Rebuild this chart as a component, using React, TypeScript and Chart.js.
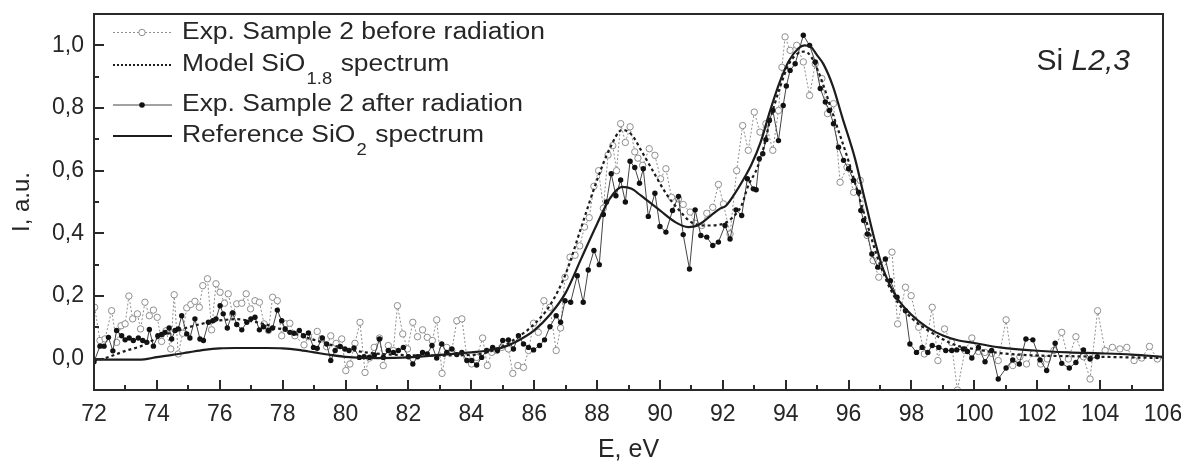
import React, { useEffect, useRef } from 'react';
import { Chart, registerables } from 'chart.js';

Chart.register(...registerables);

const FONT = '"Liberation Sans", Arial, Helvetica, sans-serif';

// Axis ticks
const xMajorTicks = [72, 74, 76, 78, 80, 82, 84, 86, 88, 90, 92, 94, 96, 98, 100, 102, 104, 106];
const xMinorTicks = [73, 75, 77, 79, 81, 83, 85, 87, 89, 91, 93, 95, 97, 99, 101, 103, 105];
const yMajorTicks = [0, 0.2, 0.4, 0.6, 0.8, 1.0];
const yMinorTicks = [0.1, 0.3, 0.5, 0.7, 0.9];

// Exp. Sample 2 before radiation (open circles)
const beforeE = [72.02, 72.19, 72.35, 72.56, 72.72, 72.86, 72.99, 73.11, 73.23, 73.38, 73.48, 73.62, 73.76, 73.89, 74.01, 74.15, 74.29, 74.44, 74.55, 74.68, 74.82, 74.95, 75.08, 75.21, 75.35, 75.46, 75.61, 75.74, 75.88, 76.01, 76.15, 76.27, 76.41, 76.54, 76.7, 76.84, 76.98, 77.12, 77.26, 77.41, 77.55, 77.68, 77.83, 77.97, 78.1, 78.23, 78.39, 78.68, 78.82, 79.1, 79.24, 79.4, 79.53, 79.7, 79.88, 80.01, 80.14, 80.3, 80.46, 80.62, 80.76, 80.91, 81.08, 81.2, 81.36, 81.52, 81.65, 81.82, 81.97, 82.14, 82.29, 82.45, 82.6, 82.76, 82.9, 83.07, 83.22, 83.38, 83.54, 83.7, 83.86, 84.01, 84.17, 84.36, 84.51, 84.65, 84.81, 84.97, 85.18, 85.32, 85.48, 85.66, 85.82, 85.98, 86.13, 86.31, 86.5, 86.7, 86.84, 86.98, 87.14, 87.3, 87.45, 87.6, 87.75, 87.9, 88.05, 88.2, 88.35, 88.5, 88.62, 88.75, 88.9, 89.05, 89.2, 89.3, 89.45, 89.66, 89.84, 90.02, 90.19, 90.37, 90.59, 90.74, 90.96, 91.12, 91.33, 91.49, 91.68, 91.86, 92.02, 92.23, 92.44, 92.63, 92.81, 93.0, 93.18, 93.37, 93.59, 93.77, 93.88, 93.98, 94.14, 94.35, 94.56, 94.76, 94.94, 95.15, 95.33, 95.52, 95.73, 95.95, 96.16, 96.37, 96.59, 96.78, 96.96, 97.38, 97.56, 97.81, 97.99, 98.23, 98.41, 98.66, 98.84, 99.05, 99.27, 99.46, 99.7, 99.92, 100.13, 100.34, 100.55, 100.76, 101.01, 101.22, 101.45, 101.66, 101.88, 102.11, 102.32, 102.53, 102.78, 102.99, 103.23, 103.47, 103.68, 103.92, 104.16, 104.39, 104.63, 104.85, 105.08, 105.32, 105.57, 105.82];
const beforeI = [0.164, 0.058, 0.063, 0.153, 0.052, 0.105, 0.111, 0.2, 0.127, 0.143, 0.095, 0.18, 0.137, 0.155, 0.132, 0.055, 0.089, 0.031, 0.204, 0.015, 0.081, 0.162, 0.173, 0.183, 0.164, 0.233, 0.255, 0.092, 0.239, 0.212, 0.177, 0.207, 0.143, 0.175, 0.177, 0.207, 0.159, 0.185, 0.18, 0.111, 0.09, 0.196, 0.185, 0.073, 0.111, 0.113, 0.073, 0.044, 0.07, 0.087, 0.063, 0.038, 0.073, 0.049, 0.063, -0.038, -0.017, 0.049, 0.116, -0.044, 0.002, 0.036, 0.066, -0.022, 0.042, 0.026, 0.169, 0.079, 0.031, 0.116, 0.07, 0.092, 0.068, 0.058, 0.124, -0.047, 0.036, 0.026, 0.121, 0.127, 0.004, -0.017, 0.004, 0.066, -0.022, 0.02, 0.026, 0.036, 0.031, -0.047, -0.022, -0.028, 0.026, 0.113, 0.084, 0.185, 0.164, 0.026, 0.098, 0.26, 0.324, 0.33, 0.36, 0.42, 0.45, 0.55, 0.6, 0.48, 0.65, 0.68, 0.6, 0.75, 0.69, 0.74, 0.66, 0.64, 0.617, 0.67, 0.649, 0.574, 0.606, 0.515, 0.51, 0.492, 0.468, 0.432, 0.425, 0.464, 0.483, 0.556, 0.494, 0.398, 0.6, 0.744, 0.665, 0.787, 0.723, 0.75, 0.665, 0.792, 0.93, 1.027, 0.984, 1.0, 0.947, 0.84, 0.941, 0.894, 0.782, 0.814, 0.563, 0.611, 0.531, 0.569, 0.393, 0.313, 0.26, 0.34, 0.111, 0.228, 0.201, 0.1, 0.015, 0.164, -0.006, 0.095, 0.052, -0.1, 0.026, 0.066, 0.023, 0.02, 0.017, -0.006, 0.124, -0.022, 0.006, -0.017, 0.017, -0.017, -0.001, 0.026, 0.084, -0.001, 0.07, 0.006, -0.065, 0.153, 0.026, 0.036, 0.031, 0.036, -0.006, 0.002, 0.039, -0.001];

// Exp. Sample 2 after radiation (filled circles)
const afterE = [72.0, 72.19, 72.32, 72.46, 72.6, 72.72, 72.88, 72.99, 73.12, 73.25, 73.41, 73.55, 73.68, 73.76, 73.89, 74.03, 74.15, 74.26, 74.39, 74.47, 74.58, 74.68, 74.79, 74.95, 75.05, 75.21, 75.37, 75.48, 75.64, 75.78, 75.88, 76.01, 76.11, 76.24, 76.41, 76.54, 76.7, 76.86, 76.99, 77.12, 77.26, 77.39, 77.55, 77.68, 77.83, 77.97, 78.08, 78.23, 78.36, 78.53, 78.66, 78.82, 78.98, 79.1, 79.26, 79.4, 79.53, 79.67, 79.83, 79.98, 80.11, 80.27, 80.44, 80.59, 80.76, 80.92, 81.08, 81.2, 81.36, 81.52, 81.68, 81.84, 82.0, 82.14, 82.29, 82.45, 82.6, 82.75, 82.9, 83.06, 83.22, 83.38, 83.54, 83.7, 83.86, 84.01, 84.17, 84.33, 84.49, 84.68, 84.83, 85.0, 85.18, 85.34, 85.5, 85.66, 85.82, 85.98, 86.17, 86.33, 86.5, 86.7, 86.84, 86.98, 87.16, 87.37, 87.56, 87.72, 87.9, 88.07, 88.2, 88.3, 88.45, 88.6, 88.75, 88.9, 89.05, 89.2, 89.35, 89.47, 89.63, 89.84, 90.0, 90.19, 90.4, 90.59, 90.74, 90.94, 91.12, 91.3, 91.49, 91.68, 91.86, 92.07, 92.23, 92.42, 92.6, 92.78, 92.97, 93.06, 93.16, 93.27, 93.37, 93.48, 93.59, 93.77, 93.92, 94.02, 94.14, 94.3, 94.56, 94.76, 94.94, 95.1, 95.26, 95.39, 95.52, 95.68, 95.84, 96.0, 96.16, 96.32, 96.39, 96.48, 96.6, 96.74, 96.93, 97.17, 97.33, 97.54, 97.81, 97.95, 98.16, 98.34, 98.52, 98.66, 98.87, 99.09, 99.28, 99.44, 99.65, 99.78, 99.92, 100.13, 100.34, 100.55, 100.76, 101.01, 101.22, 101.43, 101.64, 101.86, 102.09, 102.3, 102.57, 102.78, 103.02, 103.23, 103.47, 103.68, 103.91];
const afterI = [-0.01, 0.04, 0.04, 0.068, 0.025, 0.09, 0.073, 0.06, 0.066, 0.058, 0.066, 0.058, 0.052, 0.093, 0.04, 0.073, 0.077, 0.084, 0.098, 0.063, 0.09, 0.095, 0.137, 0.079, 0.066, 0.127, 0.063, 0.058, 0.116, 0.121, 0.127, 0.169, 0.143, 0.098, 0.146, 0.109, 0.092, 0.116, 0.127, 0.132, 0.092, 0.102, 0.09, 0.098, 0.155, 0.121, 0.095, 0.084, 0.081, 0.09, 0.073, 0.082, 0.036, 0.033, 0.066, 0.047, -0.006, 0.026, 0.039, 0.031, 0.026, 0.034, 0.004, 0.006, 0.004, 0.012, 0.063, 0.004, 0.026, 0.02, 0.026, 0.036, 0.006, -0.017, 0.006, 0.02, 0.015, 0.042, 0.002, 0.047, 0.02, 0.031, 0.013, 0.02, -0.006, -0.006, -0.02, 0.004, 0.026, 0.036, 0.026, 0.058, 0.06, 0.031, 0.073, 0.047, 0.036, 0.028, 0.042, 0.06, 0.102, 0.137, 0.116, 0.185, 0.18, 0.265, 0.18, 0.283, 0.345, 0.3, 0.46, 0.5, 0.59, 0.52, 0.57, 0.5, 0.63, 0.61, 0.56, 0.606, 0.454, 0.528, 0.422, 0.404, 0.473, 0.518, 0.396, 0.286, 0.475, 0.393, 0.388, 0.361, 0.372, 0.425, 0.382, 0.475, 0.457, 0.574, 0.542, 0.539, 0.638, 0.654, 0.699, 0.76, 0.792, 0.696, 0.808, 0.87, 0.92, 0.941, 1.032, 1.0, 0.947, 0.862, 0.819, 0.792, 0.75, 0.675, 0.633, 0.606, 0.569, 0.531, 0.473, 0.441, 0.398, 0.334, 0.292, 0.318, 0.249, 0.196, 0.153, 0.047, 0.02, 0.036, 0.02, 0.042, 0.036, 0.026, 0.026, 0.028, 0.031, 0.023, 0.002, 0.036, -0.01, 0.026, -0.065, -0.03, -0.004, -0.017, 0.063, 0.06, -0.004, -0.038, 0.049, -0.015, -0.03, -0.012, 0.028, -0.001, 0.006];

// Model SiO1.8 spectrum (dotted)
const modelE = [72.0, 72.3, 72.6, 73.0, 73.5, 74.0, 74.5, 75.0, 75.5, 76.0, 76.5, 77.0, 77.5, 78.0, 78.5, 79.0, 79.5, 80.0, 80.5, 81.0, 82.0, 83.0, 84.0, 84.5, 85.0, 85.5, 86.0, 86.5, 87.0, 87.5, 88.0, 88.4, 88.8, 89.1, 89.4, 89.8, 90.2, 90.6, 91.0, 91.5, 92.0, 92.3, 92.6, 92.8, 93.1, 93.3, 93.5, 93.8, 94.1, 94.4, 94.6, 94.8, 95.1, 95.5, 96.0, 96.5, 97.0, 97.5, 98.0, 98.5, 99.0, 99.5, 100.0, 100.8, 102.0, 103.0, 104.0, 105.0, 106.0];
const modelI = [-0.005, 0.0, 0.01, 0.025, 0.04, 0.065, 0.085, 0.1, 0.113, 0.122, 0.126, 0.12, 0.108, 0.092, 0.076, 0.06, 0.045, 0.032, 0.022, 0.016, 0.011, 0.01, 0.012, 0.02, 0.04, 0.07, 0.11, 0.17, 0.27, 0.42, 0.57, 0.67, 0.73, 0.715, 0.665, 0.595, 0.526, 0.475, 0.435, 0.425, 0.43, 0.45, 0.49, 0.55, 0.61, 0.675, 0.76, 0.86, 0.94, 0.975, 0.98, 0.965, 0.9, 0.78, 0.63, 0.46, 0.3, 0.19, 0.13, 0.092, 0.062, 0.04, 0.031, 0.018, 0.01, 0.008, 0.006, 0.004, 0.002];

// Reference SiO2 spectrum (solid)
const refE = [72.0, 73.0, 73.6, 74.0, 74.5, 75.0, 75.5, 76.0, 76.5, 77.0, 77.5, 78.0, 78.5, 79.0, 79.5, 80.0, 80.5, 81.0, 82.0, 83.0, 84.0, 84.5, 85.0, 85.5, 86.0, 86.5, 87.0, 87.5, 88.0, 88.4, 88.8, 89.1, 89.4, 90.0, 90.5, 90.9, 91.2, 91.6, 91.9, 92.1, 92.4, 92.7, 92.9, 93.2, 93.5, 93.8, 94.1, 94.4, 94.6, 94.8, 95.0, 95.2, 95.5, 95.8, 96.2, 96.5, 96.8, 97.1, 97.5, 98.0, 98.5, 99.0, 99.5, 100.0, 100.8, 101.9, 103.0, 104.0, 105.0, 106.0];
const refI = [-0.003, -0.003, -0.002, 0.005, 0.012, 0.02, 0.028, 0.033, 0.034, 0.034, 0.034, 0.033, 0.028, 0.02, 0.012, 0.006, 0.003, 0.002, 0.004, 0.012, 0.02, 0.026, 0.036, 0.058, 0.09, 0.14, 0.21, 0.32, 0.43, 0.51, 0.548, 0.542, 0.52, 0.473, 0.435, 0.42, 0.425, 0.455, 0.478, 0.488, 0.53, 0.58, 0.617, 0.69, 0.79, 0.88, 0.95, 0.99, 1.0, 0.995, 0.968, 0.94, 0.87, 0.77, 0.64, 0.515, 0.39, 0.285, 0.2, 0.14, 0.1, 0.074, 0.058, 0.05, 0.036, 0.026, 0.02, 0.017, 0.013, 0.006];

const xTitle = 'E, eV';
const yTitle = 'I, a.u.';

type Seg = { t: string; sub?: boolean; italic?: boolean };
const legendRows: Seg[][] = [
  [{ t: 'Exp. Sample 2 before radiation' }],
  [{ t: 'Model SiO' }, { t: '1.8', sub: true }, { t: ' spectrum' }],
  [{ t: 'Exp. Sample 2 after radiation' }],
  [{ t: 'Reference SiO' }, { t: '2', sub: true }, { t: ' spectrum' }],
];
const annotation: Seg[] = [{ t: 'Si ' }, { t: 'L2,3', italic: true }];

const pts = (xs: number[], ys: number[]) => xs.map((x, i) => ({ x, y: ys[i] }));

const GRAY = '#8e8e8e';
const INK = '#1c1c1c';
const TEXT = '#262626';

const decorPlugin = {
  id: 'decor',
  afterDraw(chart: any) {
    const { ctx, chartArea: a, scales } = chart;
    const xs = scales.x;
    const ys = scales.y;
    ctx.save();
    // frame
    ctx.strokeStyle = '#2a2a2a';
    ctx.lineWidth = 2;
    ctx.strokeRect(a.left, a.top, a.right - a.left, a.bottom - a.top);
    // inward ticks
    ctx.beginPath();
    for (const v of xMajorTicks) {
      const p = Math.round(xs.getPixelForValue(v));
      ctx.moveTo(p, a.bottom);
      ctx.lineTo(p, a.bottom - 10);
    }
    for (const v of xMinorTicks) {
      const p = Math.round(xs.getPixelForValue(v));
      ctx.moveTo(p, a.bottom);
      ctx.lineTo(p, a.bottom - 5);
    }
    for (const v of yMajorTicks) {
      const p = Math.round(ys.getPixelForValue(v));
      ctx.moveTo(a.left, p);
      ctx.lineTo(a.left + 10, p);
    }
    for (const v of yMinorTicks) {
      const p = Math.round(ys.getPixelForValue(v));
      ctx.moveTo(a.left, p);
      ctx.lineTo(a.left + 5, p);
    }
    ctx.stroke();

    // legend
    const rowsY = [32.5, 65, 105, 136];
    const x0 = 113;
    const x1 = 172;
    const xm = 142;
    const tx = 182;
    const mainFont = `23px ${FONT}`;
    const subFont = `16px ${FONT}`;
    // horizontal stretch so the first row spans like the reference
    ctx.font = mainFont;
    const w0 = ctx.measureText(legendRows[0][0].t).width;
    const sx = 363 / w0;
    rowsY.forEach((y, i) => {
      ctx.save();
      ctx.beginPath();
      if (i === 0) {
        ctx.strokeStyle = GRAY;
        ctx.lineWidth = 1;
        ctx.setLineDash([2, 2]);
      } else if (i === 1) {
        ctx.strokeStyle = INK;
        ctx.lineWidth = 2;
        ctx.setLineDash([2, 2]);
      } else if (i === 2) {
        ctx.strokeStyle = '#444';
        ctx.lineWidth = 1;
      } else {
        ctx.strokeStyle = INK;
        ctx.lineWidth = 2;
      }
      ctx.moveTo(x0, y);
      ctx.lineTo(x1, y);
      ctx.stroke();
      ctx.setLineDash([]);
      if (i === 0) {
        ctx.beginPath();
        ctx.arc(xm, y, 3.2, 0, Math.PI * 2);
        ctx.fillStyle = '#fff';
        ctx.fill();
        ctx.strokeStyle = GRAY;
        ctx.lineWidth = 1;
        ctx.stroke();
      } else if (i === 2) {
        ctx.beginPath();
        ctx.arc(xm, y, 2.8, 0, Math.PI * 2);
        ctx.fillStyle = '#111';
        ctx.fill();
      }
      ctx.restore();
      // text (stretched horizontally)
      ctx.save();
      ctx.translate(tx, 0);
      ctx.scale(sx, 1);
      let x = 0;
      ctx.fillStyle = TEXT;
      ctx.textBaseline = 'middle';
      ctx.textAlign = 'left';
      for (const s of legendRows[i]) {
        ctx.font = s.sub ? subFont : mainFont;
        ctx.fillText(s.t, x + (s.sub ? 1 : 0), s.sub ? y + 15 : y);
        x += ctx.measureText(s.t).width + (s.sub ? 2 : 0);
      }
      ctx.restore();
    });

    // annotation "Si L2,3"
    ctx.fillStyle = TEXT;
    ctx.textBaseline = 'middle';
    ctx.textAlign = 'left';
    let total = 0;
    for (const s of annotation) {
      ctx.font = `${s.italic ? 'italic ' : ''}30px ${FONT}`;
      total += ctx.measureText(s.t).width;
    }
    let ax = 1130 - total;
    for (const s of annotation) {
      ctx.font = `${s.italic ? 'italic ' : ''}30px ${FONT}`;
      ctx.fillText(s.t, ax, 62);
      ax += ctx.measureText(s.t).width;
    }
    ctx.restore();
  },
};

export default function App() {
  const ref = useRef<HTMLCanvasElement | null>(null);
  useEffect(() => {
    if (!ref.current) return;
    const chart = new Chart(ref.current, {
      type: 'scatter',
      data: {
        datasets: [
          {
            label: 'Exp. Sample 2 before radiation',
            data: pts(beforeE, beforeI),
            showLine: true,
            borderColor: GRAY,
            borderWidth: 1,
            borderDash: [2, 2],
            pointRadius: 3.2,
            pointBorderWidth: 1,
            pointBackgroundColor: '#fff',
            pointBorderColor: GRAY,
            order: 4,
          },
          {
            label: 'Exp. Sample 2 after radiation',
            data: pts(afterE, afterI),
            showLine: true,
            borderColor: '#444',
            borderWidth: 1,
            pointRadius: 2.7,
            pointBorderWidth: 0,
            pointBackgroundColor: '#111',
            pointBorderColor: '#111',
            order: 3,
          },
          {
            label: 'Model SiO1.8 spectrum',
            data: pts(modelE, modelI),
            showLine: true,
            borderColor: INK,
            borderWidth: 2.2,
            borderDash: [3, 3],
            pointRadius: 0,
            cubicInterpolationMode: 'monotone',
            order: 2,
          },
          {
            label: 'Reference SiO2 spectrum',
            data: pts(refE, refI),
            showLine: true,
            borderColor: INK,
            borderWidth: 2.2,
            pointRadius: 0,
            cubicInterpolationMode: 'monotone',
            order: 1,
          },
        ] as any,
      },
      options: {
        animation: false,
        responsive: true,
        maintainAspectRatio: false,
        layout: { padding: { left: 0, top: 14, right: 18, bottom: 0 } },
        plugins: { legend: { display: false }, tooltip: { enabled: false } },
        scales: {
          x: {
            type: 'linear',
            min: 72,
            max: 106,
            grid: { display: false },
            border: { display: false },
            afterFit: (s: any) => {
              s.height = 78;
              s.paddingLeft = 0;
              s.paddingRight = 0;
            },
            afterBuildTicks: (s: any) => {
              s.ticks = xMajorTicks.map((v) => ({ value: v }));
            },
            ticks: {
              color: TEXT,
              font: { family: FONT, size: 23 },
              padding: 3,
              maxRotation: 0,
              autoSkip: false,
            },
            title: {
              display: true,
              text: xTitle,
              color: TEXT,
              font: { family: FONT, size: 25 },
              padding: { top: 0, bottom: 3 },
            },
          },
          y: {
            type: 'linear',
            min: -0.1,
            max: 1.1,
            grid: { display: false },
            border: { display: false },
            afterFit: (s: any) => {
              s.width = 94;
              s.paddingTop = 0;
              s.paddingBottom = 0;
            },
            afterBuildTicks: (s: any) => {
              s.ticks = yMajorTicks.map((v) => ({ value: v }));
            },
            ticks: {
              color: TEXT,
              font: { family: FONT, size: 23 },
              padding: 2,
              autoSkip: false,
              callback: (v: any) => Number(v).toFixed(1).replace('.', ','),
            },
            title: {
              display: true,
              text: yTitle,
              color: TEXT,
              font: { family: FONT, size: 24 },
              padding: { top: 8, bottom: 0 },
            },
          },
        },
      },
      plugins: [decorPlugin],
    });
    return () => chart.destroy();
  }, []);
  return (
    <div style={{ position: 'absolute', left: 0, top: 0, width: 1181, height: 468, background: '#fff' }}>
      <canvas ref={ref} />
    </div>
  );
}
